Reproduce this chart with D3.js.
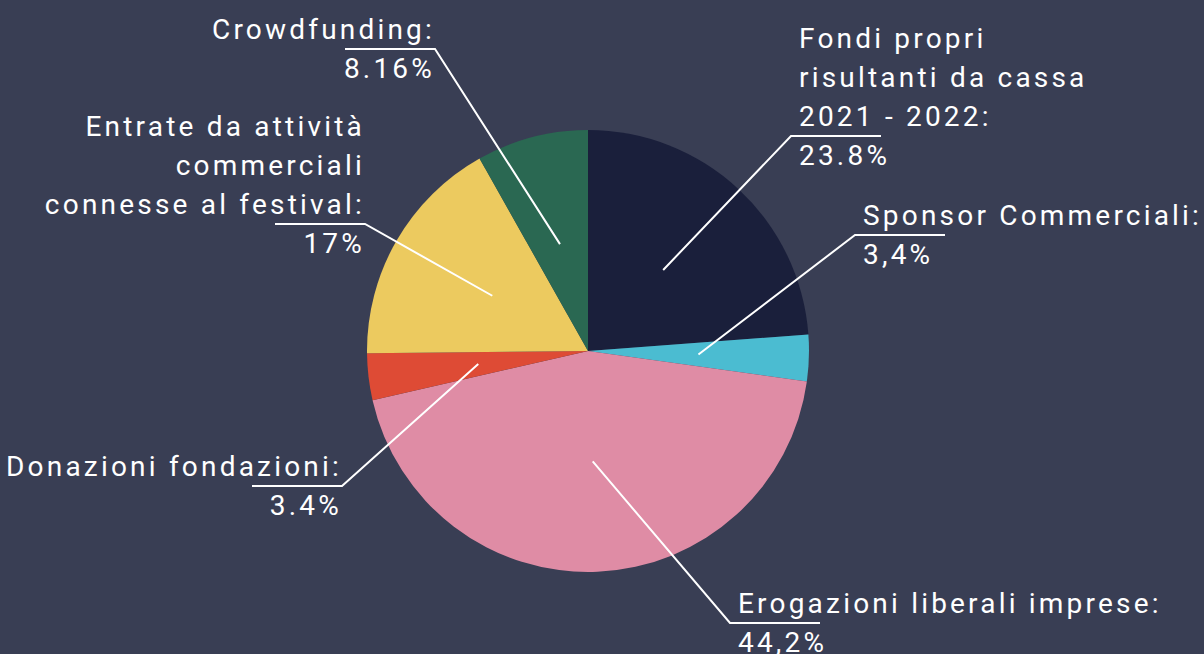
<!DOCTYPE html>
<html>
<head>
<meta charset="utf-8">
<script src="https://cdn.jsdelivr.net/npm/d3@7"></script>
<style>
  html, body { margin: 0; padding: 0; background: #393e54; }
  svg text { font-family: Roboto, "DejaVu Sans", sans-serif; fill: #ffffff; }
</style>
</head>
<body>
<svg id="pie-chart"></svg>
<script>
// Pie chart of income sources

const categories = [
    ["Fondi propri", "risultanti da cassa", "2021 - 2022:"],
    ["Sponsor Commerciali:"],
    ["Erogazioni liberali imprese:"],
    ["Donazioni fondazioni:"],
    ["Entrate da attività", "commerciali", "connesse al festival:"],
    ["Crowdfunding:"]
];
const values = [23.8, 3.4, 44.2, 3.4, 17, 8.16];
const valueLabels = ["23.8%", "3,4%", "44,2%", "3.4%", "17%", "8.16%"];
const colors = ["#1a1f3b", "#4bbcd1", "#df8ca5", "#de4b35", "#ecca5f", "#2a6852"];

// where each leader line bends (relative to pie centre) and which side the text sits
const labelLayout = [
    { dx: 203, dy: -215, side: "right" },
    { dx: 267, dy: -116, side: "right" },
    { dx: 142, dy: 272, side: "right" },
    { dx: -246, dy: 135, side: "left" },
    { dx: -223, dy: -127, side: "left" },
    { dx: -153, dy: -302, side: "left" }
];

const width = 1204, height = 654;
const cx = 588, cy = 351, radius = 221;
const fontSize = 28, lineGap = 39, spacing = "3.2px", underline = 90;

const svg = d3.select("#pie-chart")
    .attr("width", width)
    .attr("height", height);

const g = svg.append("g")
    .attr("transform", `translate(${cx},${cy})`);

const data = values.map((v, i) => ({ value: v, lines: categories[i], pct: valueLabels[i], color: colors[i], layout: labelLayout[i] }));

const pie = d3.pie()
    .value(d => d.value)
    .sort(null);

const arc = d3.arc()
    .innerRadius(0)
    .outerRadius(radius);

const arcs = pie(data);

g.selectAll("path.slice")
    .data(arcs)
    .join("path")
    .attr("class", "slice")
    .attr("fill", d => d.data.color)
    .attr("d", arc);

// labels + leader lines
arcs.forEach(a => {
    let d = a.data;
    let lay = d.layout;
    let [x0, y0] = arc.centroid(a);
    let bx = lay.dx, by = lay.dy;
    let right = lay.side === "right";
    let anchor = right ? "start" : "end";
    let tx = right ? bx + 8 : bx;

    let lbl = g.append("g");
    // category lines, last one sits just above the underline
    d.lines.forEach((line, i) => {
        lbl.append("text")
            .attr("x", tx)
            .attr("y", by - 10 - (d.lines.length - 1 - i) * lineGap)
            .attr("text-anchor", anchor)
            .style("font-size", fontSize + "px")
            .style("letter-spacing", spacing)
            .text(line);
    });
    lbl.append("text")
        .attr("x", tx)
        .attr("y", by + 29)
        .attr("text-anchor", anchor)
        .style("font-size", fontSize + "px")
        .style("letter-spacing", spacing)
        .text(d.pct);

    let ux = right ? bx + underline : bx - underline;

    g.append("polyline")
        .attr("points", `${x0},${y0} ${bx},${by} ${ux},${by}`)
        .attr("fill", "none")
        .attr("stroke", "#ffffff")
        .attr("stroke-width", 2);
});
</script>
</body>
</html>
